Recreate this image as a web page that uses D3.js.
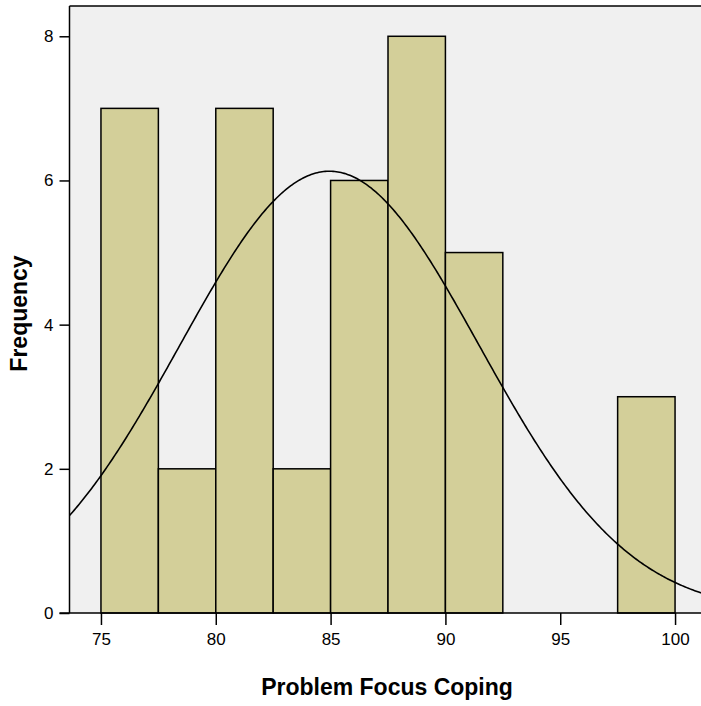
<!DOCTYPE html>
<html>
<head>
<meta charset="utf-8">
<script src="https://cdn.jsdelivr.net/npm/d3@7"></script>
<style>
  html, body { margin: 0; padding: 0; background: #ffffff; }
  svg { display: block; }
  text { font-family: "Liberation Sans", Arial, sans-serif; fill: #000; }
</style>
</head>
<body>
<svg id="chart" width="701" height="706"></svg>
<script>
// ---- data ----
const binStarts = [75, 77.5, 80, 82.5, 85, 87.5, 90, 92.5, 95, 97.5];
const binWidth = 2.5;
const counts = [7, 2, 7, 2, 6, 8, 5, 0, 0, 3];
const xTicks = [75, 80, 85, 90, 95, 100];
const yTicks = [0, 2, 4, 6, 8];
const curveMean = 84.95;
const curveSD = 6.51;
const xTitle = "Problem Focus Coping";
const yTitle = "Frequency";

// ---- layout ----
(function () {
const svg = d3.select("#chart");
const pL = 69.5, pR = 701, pT = 6, pB = 613;

const x = d3.scaleLinear().domain([73.63, 101.13]).range([pL, pR]);
const y = d3.scaleLinear().domain([0, 8.42]).range([pB, pT]);

// plot background
svg.append("rect")
  .attr("x", pL).attr("y", pT)
  .attr("width", 720 - pL).attr("height", pB - pT)
  .attr("fill", "#f0f0f0");

// bars
const total = d3.sum(counts);
const bars = binStarts.map((s, i) => ({ s, c: counts[i] })).filter(d => d.c > 0);
svg.append("g").selectAll("rect").data(bars).join("rect")
  .attr("x", d => x(d.s))
  .attr("y", d => y(d.c))
  .attr("width", d => x(d.s + binWidth) - x(d.s))
  .attr("height", d => y(0) - y(d.c))
  .attr("fill", "#d3cf99")
  .attr("stroke", "#000")
  .attr("stroke-width", 1.5);

// normal curve
const xs = d3.range(0, 401).map(i => 73.63 + i * (101.13 - 73.63) / 400);
const dens = v => total * binWidth / (curveSD * Math.sqrt(2 * Math.PI)) *
  Math.exp(-0.5 * Math.pow((v - curveMean) / curveSD, 2));
svg.append("path")
  .datum(xs)
  .attr("d", d3.line().x(v => x(v)).y(v => y(dens(v))))
  .attr("fill", "none")
  .attr("stroke", "#000")
  .attr("stroke-width", 1.6);

// frame lines (left & top)
svg.append("line").attr("x1", pL).attr("x2", pL).attr("y1", pT).attr("y2", pB)
  .attr("stroke", "#000").attr("stroke-width", 1.5);
svg.append("line").attr("x1", pL).attr("x2", 720).attr("y1", pT).attr("y2", pT)
  .attr("stroke", "#000").attr("stroke-width", 1.5);

// x axis
const xAxis = d3.axisBottom(x).tickValues(xTicks).tickSize(12).tickPadding(8).tickSizeOuter(0);
const gx = svg.append("g").attr("transform", `translate(0,${pB})`).call(xAxis);
gx.select(".domain").remove();
gx.append("line").attr("x1", pL - 10).attr("x2", 720).attr("y1", 0).attr("y2", 0)
  .attr("stroke", "#000").attr("stroke-width", 1.5);
gx.selectAll(".tick line").attr("stroke", "#000").attr("stroke-width", 1.5);
gx.selectAll(".tick text")
  .attr("font-family", "'Liberation Sans', Arial, sans-serif")
  .attr("font-size", 17).attr("fill", "#000");

// y axis
const yAxis = d3.axisLeft(y).tickValues(yTicks).tickSize(10).tickPadding(6).tickSizeOuter(0);
const gy = svg.append("g").attr("transform", `translate(${pL},0)`).call(yAxis);
gy.select(".domain").remove();
gy.selectAll(".tick line").attr("stroke", "#000").attr("stroke-width", 1.5);
gy.selectAll(".tick text")
  .attr("font-family", "'Liberation Sans', Arial, sans-serif")
  .attr("font-size", 17).attr("fill", "#000");

// titles
svg.append("text")
  .attr("x", 387).attr("y", 695)
  .attr("text-anchor", "middle")
  .attr("font-size", 23).attr("font-weight", "bold")
  .text(xTitle);
svg.append("text")
  .attr("transform", `translate(27,${(pT + pB) / 2 + 4}) rotate(-90)`)
  .attr("text-anchor", "middle")
  .attr("font-size", 23).attr("font-weight", "bold")
  .text(yTitle);
})();
</script>
</body>
</html>
